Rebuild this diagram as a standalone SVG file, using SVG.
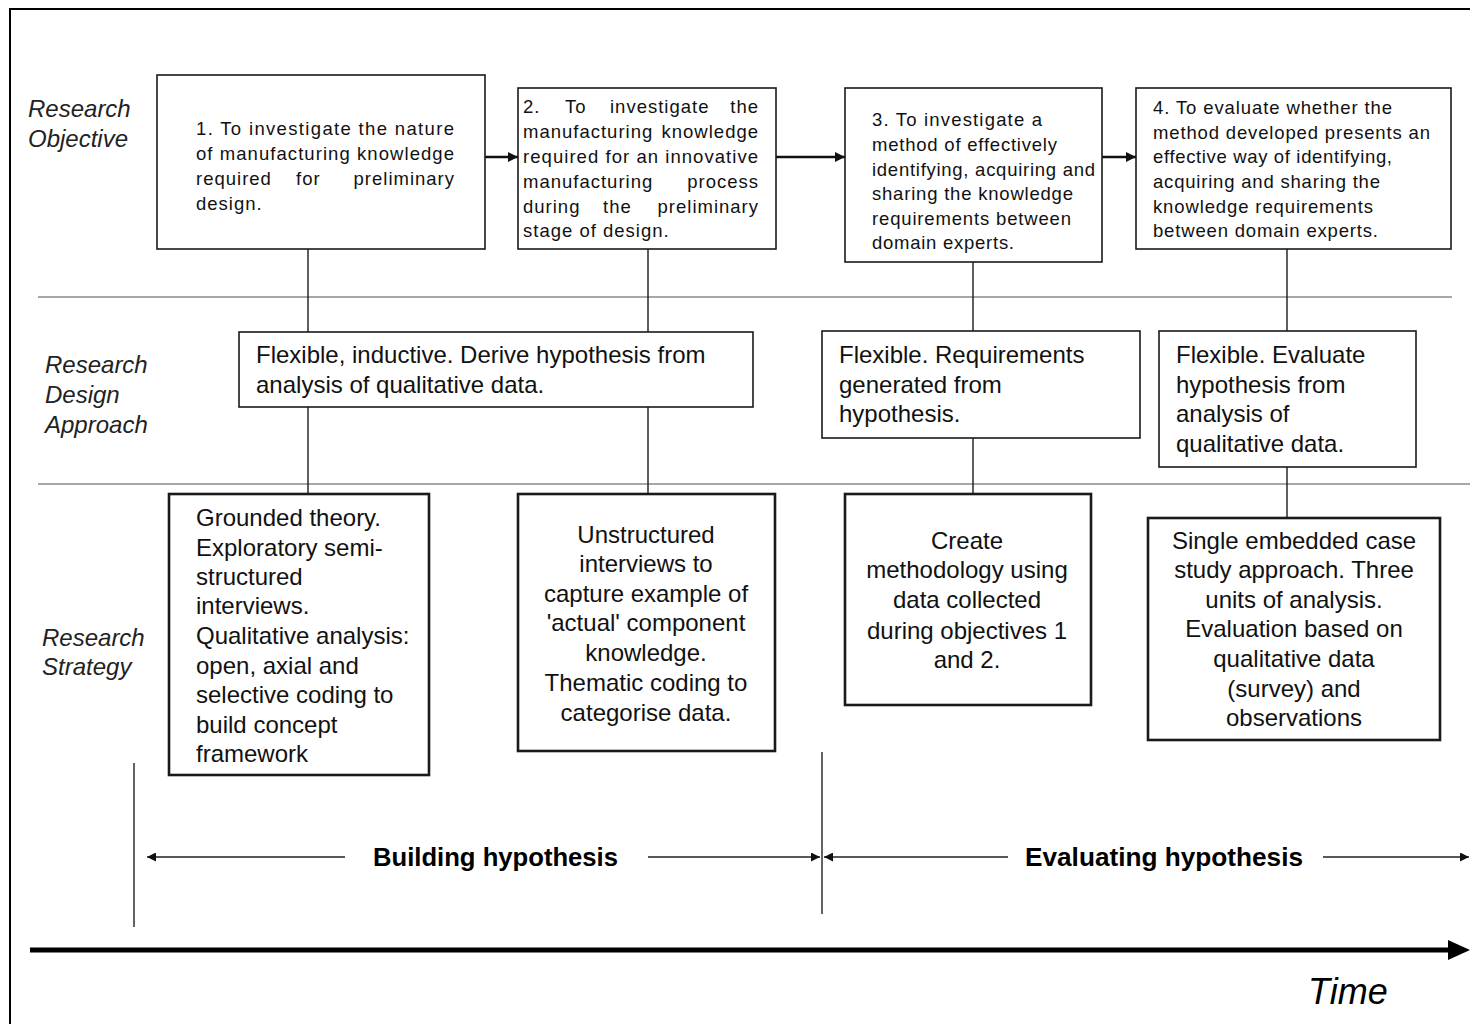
<svg xmlns="http://www.w3.org/2000/svg" width="1470" height="1024" viewBox="0 0 1470 1024">
  <style>
    .bg { fill: #ffffff; }
    .frame { fill: none; stroke: #000; stroke-width: 2; }
    .box { fill: #ffffff; stroke: #1a1a1a; stroke-width: 1.6; }
    .box-strong { fill: #ffffff; stroke: #1a1a1a; stroke-width: 2.6; }
    .sep { stroke: #8a8a8a; stroke-width: 1.6; fill: none; }
    .link { stroke: #1a1a1a; stroke-width: 1.4; fill: none; }
    .flow { stroke: #111; stroke-width: 2.4; fill: none; }
    .span { stroke: #222; stroke-width: 1.4; fill: none; }
    .axis { stroke: #000; stroke-width: 5; fill: none; }
    .obj { font-family: "Liberation Sans", Arial, sans-serif; font-size: 18.5px; fill: #111; letter-spacing: 1px; }
    .body { font-family: "Liberation Sans", Arial, sans-serif; font-size: 24px; fill: #111; }
    .mid { text-anchor: middle; }
    .row { font-family: "Liberation Sans", Arial, sans-serif; font-size: 24px; font-style: italic; fill: #222; }
    .phase { font-family: "Liberation Sans", Arial, sans-serif; font-size: 26px; font-weight: bold; fill: #000; }
    .time { font-family: "Liberation Sans", Arial, sans-serif; font-size: 36px; font-style: italic; fill: #000; }
  </style>
  <defs>
    <marker id="tip" viewBox="0 0 10 10" refX="10" refY="5" markerWidth="10" markerHeight="10" markerUnits="userSpaceOnUse" orient="auto">
      <path d="M0,0 L10,5 L0,10 z" fill="#111"/>
    </marker>
    <marker id="tip-small" viewBox="0 0 10 10" refX="10" refY="5" markerWidth="9" markerHeight="9" markerUnits="userSpaceOnUse" orient="auto">
      <path d="M0,0 L10,5 L0,10 z" fill="#111"/>
    </marker>
  </defs>

  <rect class="bg" x="0" y="0" width="1470" height="1024"/>
  <!-- outer frame (left and top edges) -->
  <path class="frame" d="M10,1024 V9 H1470"/>

  <!-- band separators -->
  <g id="separators">
    <line class="sep" x1="38" y1="297" x2="1452" y2="297"/>
    <line class="sep" x1="38" y1="484" x2="1470" y2="484"/>
  </g>

  <!-- row labels -->
  <g id="row-labels">
    <text class="row" x="28" y="117">Research</text>
    <text class="row" x="28" y="147">Objective</text>
    <text class="row" x="45" y="373">Research</text>
    <text class="row" x="45" y="403">Design</text>
    <text class="row" x="45" y="433">Approach</text>
    <text class="row" x="42" y="646">Research</text>
    <text class="row" x="42" y="675">Strategy</text>
  </g>

  <!-- connectors -->
  <g id="connectors">
    <path class="flow" d="M485,157 H518" marker-end="url(#tip)"/>
    <path class="flow" d="M776,157 H845" marker-end="url(#tip)"/>
    <path class="flow" d="M1102,157 H1136" marker-end="url(#tip)"/>
    <path class="link" d="M308,249 V332"/>
    <path class="link" d="M308,407 V494"/>
    <path class="link" d="M648,249 V332"/>
    <path class="link" d="M648,407 V494"/>
    <path class="link" d="M973,262 V331"/>
    <path class="link" d="M973,438 V494"/>
    <path class="link" d="M1287,249 V331"/>
    <path class="link" d="M1287,467 V518"/>
  </g>

  <!-- research objectives -->
  <g id="objective-1">
    <rect class="box" x="157" y="75" width="328" height="174"/>
    <text class="obj" x="196" y="135" textLength="259" lengthAdjust="spacing">1. To investigate the nature</text>
    <text class="obj" x="196" y="160" textLength="259" lengthAdjust="spacing">of manufacturing knowledge</text>
    <text class="obj" y="185"><tspan x="196">required</tspan><tspan x="296">for</tspan><tspan x="455" text-anchor="end">preliminary</tspan></text>
    <text class="obj" x="196" y="210">design.</text>
  </g>

  <g id="objective-2">
    <rect class="box" x="518" y="88" width="258" height="161"/>
    <text class="obj" y="113"><tspan x="523">2.</tspan><tspan x="565">To</tspan><tspan x="610">investigate</tspan><tspan x="759" text-anchor="end">the</tspan></text>
    <text class="obj" y="138"><tspan x="523">manufacturing</tspan><tspan x="759" text-anchor="end">knowledge</tspan></text>
    <text class="obj" x="523" y="163" textLength="236" lengthAdjust="spacing">required for an innovative</text>
    <text class="obj" y="188"><tspan x="523">manufacturing</tspan><tspan x="759" text-anchor="end">process</tspan></text>
    <text class="obj" y="213"><tspan x="523">during</tspan><tspan x="603">the</tspan><tspan x="759" text-anchor="end">preliminary</tspan></text>
    <text class="obj" x="523" y="237">stage of design.</text>
  </g>

  <g id="objective-3">
    <rect class="box" x="845" y="88" width="257" height="174"/>
    <text class="obj" x="872" y="126" textLength="171" lengthAdjust="spacing">3.  To investigate a</text>
    <text class="obj" x="872" y="151" textLength="186" lengthAdjust="spacing">method of effectively</text>
    <text class="obj" x="872" y="176" textLength="224" lengthAdjust="spacing">identifying, acquiring and</text>
    <text class="obj" x="872" y="200" textLength="202" lengthAdjust="spacing">sharing the knowledge</text>
    <text class="obj" x="872" y="225" textLength="200" lengthAdjust="spacing">requirements between</text>
    <text class="obj" x="872" y="249" textLength="143" lengthAdjust="spacing">domain experts.</text>
  </g>

  <g id="objective-4">
    <rect class="box" x="1136" y="88" width="315" height="161"/>
    <text class="obj" x="1153" y="114" textLength="240" lengthAdjust="spacing">4. To evaluate whether the</text>
    <text class="obj" x="1153" y="139" textLength="278" lengthAdjust="spacing">method developed presents an</text>
    <text class="obj" x="1153" y="163" textLength="240" lengthAdjust="spacing">effective way of identifying,</text>
    <text class="obj" x="1153" y="188" textLength="228" lengthAdjust="spacing">acquiring and sharing the</text>
    <text class="obj" x="1153" y="213" textLength="221" lengthAdjust="spacing">knowledge requirements</text>
    <text class="obj" x="1153" y="237" textLength="226" lengthAdjust="spacing">between domain experts.</text>
  </g>

  <!-- research design approach -->
  <g id="design-1">
    <rect class="box" x="239" y="332" width="514" height="75"/>
    <text class="body" x="256" y="363">Flexible, inductive. Derive hypothesis from</text>
    <text class="body" x="256" y="393">analysis of qualitative data.</text>
  </g>

  <g id="design-2">
    <rect class="box" x="822" y="331" width="318" height="107"/>
    <text class="body" x="839" y="363">Flexible. Requirements</text>
    <text class="body" x="839" y="393">generated from</text>
    <text class="body" x="839" y="422">hypothesis.</text>
  </g>

  <g id="design-3">
    <rect class="box" x="1159" y="331" width="257" height="136"/>
    <text class="body" x="1176" y="363">Flexible. Evaluate</text>
    <text class="body" x="1176" y="393">hypothesis from</text>
    <text class="body" x="1176" y="422">analysis of</text>
    <text class="body" x="1176" y="452">qualitative data.</text>
  </g>

  <!-- research strategy -->
  <g id="strategy-1">
    <rect class="box-strong" x="169" y="494" width="260" height="281"/>
    <text class="body" x="196" y="526">Grounded theory.</text>
    <text class="body" x="196" y="556">Exploratory semi-</text>
    <text class="body" x="196" y="585">structured</text>
    <text class="body" x="196" y="614">interviews.</text>
    <text class="body" x="196" y="644">Qualitative analysis:</text>
    <text class="body" x="196" y="674">open, axial and</text>
    <text class="body" x="196" y="703">selective coding to</text>
    <text class="body" x="196" y="733">build concept</text>
    <text class="body" x="196" y="762">framework</text>
  </g>

  <g id="strategy-2">
    <rect class="box-strong" x="518" y="494" width="257" height="257"/>
    <text class="body mid" x="646" y="543">Unstructured</text>
    <text class="body mid" x="646" y="572">interviews to</text>
    <text class="body mid" x="646" y="602">capture example of</text>
    <text class="body mid" x="646" y="631">'actual' component</text>
    <text class="body mid" x="646" y="661">knowledge.</text>
    <text class="body mid" x="646" y="691">Thematic coding to</text>
    <text class="body mid" x="646" y="721">categorise data.</text>
  </g>

  <g id="strategy-3">
    <rect class="box-strong" x="845" y="494" width="246" height="211"/>
    <text class="body mid" x="967" y="549">Create</text>
    <text class="body mid" x="967" y="578">methodology using</text>
    <text class="body mid" x="967" y="608">data collected</text>
    <text class="body mid" x="967" y="639">during objectives 1</text>
    <text class="body mid" x="967" y="668">and 2.</text>
  </g>

  <g id="strategy-4">
    <rect class="box-strong" x="1148" y="518" width="292" height="222"/>
    <text class="body mid" x="1294" y="549">Single embedded case</text>
    <text class="body mid" x="1294" y="578">study approach. Three</text>
    <text class="body mid" x="1294" y="608">units of analysis.</text>
    <text class="body mid" x="1294" y="637">Evaluation based on</text>
    <text class="body mid" x="1294" y="667">qualitative data</text>
    <text class="body mid" x="1294" y="697">(survey) and</text>
    <text class="body mid" x="1294" y="726">observations</text>
  </g>

  <!-- phases along the timeline -->
  <g id="phases">
    <line class="span" x1="134" y1="763" x2="134" y2="927"/>
    <line class="span" x1="822" y1="752" x2="822" y2="914"/>
    <path class="span" d="M345,857 H147" marker-end="url(#tip-small)"/>
    <path class="span" d="M648,857 H820" marker-end="url(#tip-small)"/>
    <path class="span" d="M1008,857 H824" marker-end="url(#tip-small)"/>
    <path class="span" d="M1323,857 H1469" marker-end="url(#tip-small)"/>
    <text class="phase" x="373" y="866" textLength="245" lengthAdjust="spacingAndGlyphs">Building hypothesis</text>
    <text class="phase" x="1025" y="866" textLength="278" lengthAdjust="spacingAndGlyphs">Evaluating hypothesis</text>
  </g>

  <!-- time axis -->
  <g id="time-axis">
    <line class="axis" x1="30" y1="950" x2="1452" y2="950"/>
    <path d="M1448,940 L1470,950 L1448,960 z" fill="#000"/>
    <text class="time" x="1308" y="1004">Time</text>
  </g>
</svg>
